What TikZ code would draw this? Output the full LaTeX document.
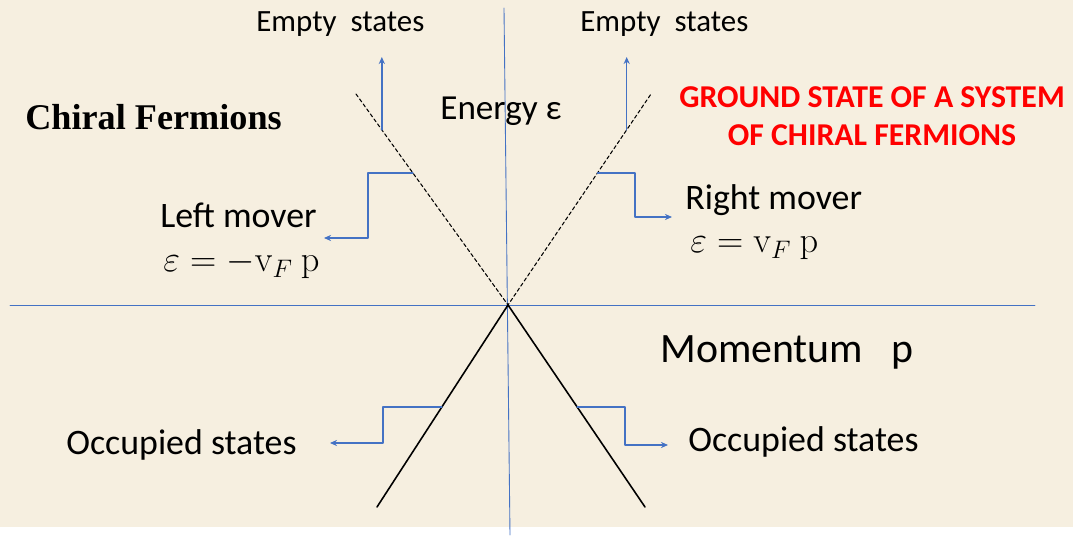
\documentclass[tikz,border=0pt]{standalone}
\usepackage[no-math]{fontspec}
\setmainfont{Carlito}
\newfontfamily\serifbold{Liberation Serif}
\usetikzlibrary{positioning,arrows.meta,calc}
\definecolor{paper}{RGB}{246,239,224}
\definecolor{axisblue}{RGB}{68,114,196}
\definecolor{titlered}{RGB}{255,0,0}
\tikzset{
  axisline/.style={axisblue, line width=0.5pt},
  moverline/.style={black, line width=0.6pt, dash pattern=on 2pt off 1.5pt},
  occline/.style={black, line width=0.9pt},
  pointer/.style={axisblue, line width=0.8pt, -{Stealth[length=4pt,width=3.5pt]}},
  lbl/.style={inner sep=0pt, anchor=base west, font=\fontsize{20.4}{24}\selectfont},
}

\begin{document}
\begin{tikzpicture}[x=0.02cm,y=-0.02cm, line cap=round, line join=round]
\useasboundingbox (0,0) rectangle (1073,553);
% Background
\fill[white] (0,0) rectangle (1073,553);
\fill[paper] (0,0) rectangle (1073,527);

% Axes
\coordinate (O) at (508,305);
\draw[axisline] (504,8) -- (510,535);
\draw[axisline] (10,305) -- (1035,305);

% Dispersion branches
\coordinate (lt) at (356,94);
\coordinate (rt) at (651,94);
\coordinate (lb) at (377,507);
\coordinate (rb) at (645,507);
\draw[moverline] (lt) -- (O) -- (rt);
\draw[occline] (lb) -- (O) -- (rb);

% Labels
\node[lbl, font=\fontsize{17.6}{20}\selectfont] (emptyL) at (256,32) {Empty\ \ states};
\node[lbl, font=\fontsize{17.6}{20}\selectfont] (emptyR) at (580,32) {Empty\ \ states};
\node[lbl, font=\fontsize{20}{24}\selectfont] (energy) at (440,120) {Energy ε};
\node[lbl, font=\serifbold\bfseries\fontsize{20.6}{24}\selectfont] (chiral) at (25,130) {Chiral Fermions};
\node[inner sep=0pt, align=center, text=titlered, font=\bfseries\fontsize{18.1}{21.5}\selectfont] (title) at (872,116)
  {GROUND STATE OF A SYSTEM\\OF CHIRAL FERMIONS};
\node[lbl] (leftmv) at (160,228) {Left mover};
\node[lbl] (leftdisp) at (163,272) {$\varepsilon = -\mathrm{v}_F\ \mathrm{p}$};
\node[lbl] (rightmv) at (685,210) {Right mover};
\node[lbl] (rightdisp) at (690,253) {$\varepsilon = \mathrm{v}_F\ \mathrm{p}$};
\node[lbl, font=\fontsize{23.8}{28}\selectfont] (momentum) at (660,363) {Momentum\ \ \ p};
\node[lbl] (occL) at (66,455) {Occupied states};
\node[lbl] (occR) at (688,452) {Occupied states};

% Pointers
\coordinate (lup) at ($(lt)!0.17!(O)$);
\coordinate (rup) at ($(rt)!0.17!(O)$);
\coordinate (lmv) at ($(lt)!0.374!(O)$);
\coordinate (rmv) at ($(rt)!0.374!(O)$);
\coordinate (locc) at ($(O)!0.505!(lb)$);
\coordinate (rocc) at ($(O)!0.505!(rb)$);
\coordinate (lupend) at (lup |- 0,57);
\coordinate (rupend) at (rup |- 0,57);
\coordinate (lmvend) at (324,238);
\coordinate (rmvend) at (672,217);
\coordinate (loccend) at (330,443);
\coordinate (roccend) at (668,445);
\draw[pointer] (lup) -- (lupend);
\draw[pointer] (rup) -- (rupend);
\draw[pointer] (lmv) -| (368,238) -- (lmvend);
\draw[pointer] (rmv) -| (635,217) -- (rmvend);
\draw[pointer] (locc) -| (383,443) -- (loccend);
\draw[pointer] (rocc) -| (625,445) -- (roccend);
\end{tikzpicture}
\end{document}
